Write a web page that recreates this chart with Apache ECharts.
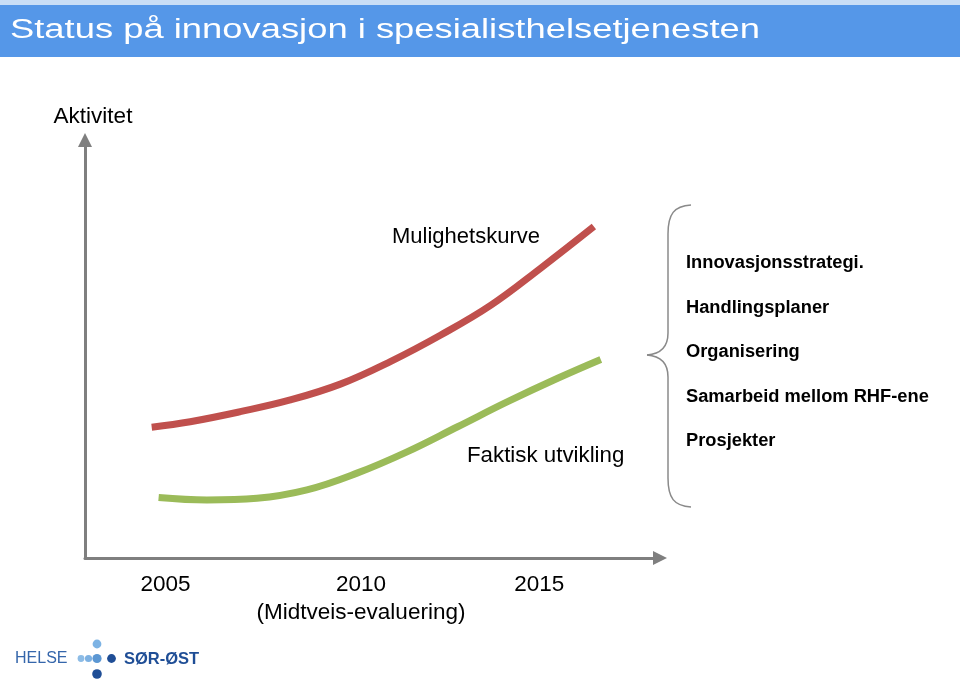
<!DOCTYPE html>
<html><head><meta charset="utf-8">
<script src="https://cdn.jsdelivr.net/npm/echarts@6/dist/echarts.min.js"></script>
<style>html,body{margin:0;padding:0;background:#fff}#c{width:960px;height:682px}</style>
</head><body><div id="c"></div>
<script>
// ---- chart content ----
const titleText = 'Status på innovasjon i spesialisthelsetjenesten';
const yAxisTitle = 'Aktivitet';
const tickPositions = [14, 48, 79];
const tickLabels = ['2005', '2010\n(Midtveis-evaluering)', '2015'];
const possibleName = 'Mulighetskurve';
const possibleX = [11.6, 18.3, 27.0, 35.7, 44.4, 53.1, 61.8, 70.6, 79.3, 88.5];
const possibleY = [31.3, 32.6, 35.0, 37.8, 41.6, 47.0, 53.3, 60.5, 69.4, 79.3];
const actualName = 'Faktisk utvikling';
const actualX = [12.8, 21.2, 29.9, 38.6, 47.3, 56.0, 64.8, 73.5, 82.2, 89.7];
const actualY = [14.5, 13.9, 14.3, 16.3, 20.3, 25.4, 31.4, 37.4, 43.0, 47.5];
const measures = ['Innovasjonsstrategi.', 'Handlingsplaner', 'Organisering', 'Samarbeid mellom RHF-ene', 'Prosjekter'];
const logoLeft = 'HELSE';
const logoRight = 'SØR-ØST';

// ---- rendering ----
const FONT = '"Liberation Sans", Arial, Helvetica, sans-serif';
const chart = echarts.init(document.getElementById('c'), null, {renderer: 'canvas'});

const cv = document.createElement('canvas').getContext('2d');
cv.font = '27px ' + FONT;
const titleW = cv.measureText(titleText).width;
const titleScale = 750 / titleW;

const zip = (xs, ys) => xs.map((x, i) => [x, ys[i]]);

const braceStyle = {stroke: '#8a8a8a', lineWidth: 1.5, fill: null};
const graphics = [
  {type: 'rect', shape: {x: 0, y: 0, width: 960, height: 5}, style: {fill: '#c9def6'}, silent: true},
  {type: 'rect', shape: {x: 0, y: 5, width: 960, height: 52}, style: {fill: '#5597e8'}, silent: true},
  {type: 'text', x: 10, y: 31, scaleX: titleScale, originX: 0,
   style: {text: titleText, fill: '#ffffff', font: '27px ' + FONT, verticalAlign: 'middle', align: 'left'}},
  {type: 'text', x: 392, y: 237, style: {text: possibleName, fill: '#000', font: '22px ' + FONT, verticalAlign: 'middle'}},
  {type: 'text', x: 467, y: 456, style: {text: actualName, fill: '#000', font: '22.3px ' + FONT, verticalAlign: 'middle'}},
  {type: 'bezierCurve', shape: {x1: 691, y1: 205, cpx1: 674, cpy1: 206, cpx2: 668, cpy2: 214, x2: 668, y2: 234}, style: braceStyle, silent: true},
  {type: 'line', shape: {x1: 668, y1: 234, x2: 668, y2: 333}, style: braceStyle, silent: true},
  {type: 'bezierCurve', shape: {x1: 668, y1: 333, cpx1: 668, cpy1: 348, cpx2: 660, cpy2: 354, x2: 647, y2: 355}, style: braceStyle, silent: true},
  {type: 'bezierCurve', shape: {x1: 647, y1: 355, cpx1: 660, cpy1: 356, cpx2: 668, cpy2: 362, x2: 668, y2: 377}, style: braceStyle, silent: true},
  {type: 'line', shape: {x1: 668, y1: 377, x2: 668, y2: 478}, style: braceStyle, silent: true},
  {type: 'bezierCurve', shape: {x1: 668, y1: 478, cpx1: 668, cpy1: 498, cpx2: 674, cpy2: 506, x2: 691, y2: 507}, style: braceStyle, silent: true},
  {type: 'text', x: 15, y: 659, style: {text: logoLeft, fill: '#3566ab', font: '16px ' + FONT, verticalAlign: 'middle'}},
  {type: 'text', x: 124, y: 659, style: {text: logoRight, fill: '#1f4e96', font: 'bold 16.5px ' + FONT, verticalAlign: 'middle'}},
  {type: 'circle', shape: {cx: 81, cy: 658.5, r: 3.4}, style: {fill: '#8dbce6'}},
  {type: 'circle', shape: {cx: 88.5, cy: 658.5, r: 3.6}, style: {fill: '#7db1e2'}},
  {type: 'circle', shape: {cx: 97, cy: 658.5, r: 4.6}, style: {fill: '#5b97d3'}},
  {type: 'circle', shape: {cx: 97, cy: 644, r: 4.4}, style: {fill: '#7db3e4'}},
  {type: 'circle', shape: {cx: 97, cy: 674, r: 4.8}, style: {fill: '#1f4e96'}},
  {type: 'circle', shape: {cx: 111.5, cy: 658.5, r: 4.4}, style: {fill: '#1f4e96'}}
];
measures.forEach((m, i) => {
  graphics.push({type: 'text', x: 686, y: 263 + i * 44.5,
    style: {text: m, fill: '#000', font: 'bold 18.3px ' + FONT, verticalAlign: 'middle'}});
});

const axisLine = {show: true, symbol: ['none', 'triangle'], symbolSize: [14, 14],
  lineStyle: {color: '#7f7f7f', width: 3}};

chart.setOption({
  animation: false,
  backgroundColor: '#ffffff',
  grid: {left: 85, right: 300, top: 140, bottom: 124},
  xAxis: {
    type: 'value', min: 0, max: 100,
    axisLine: axisLine,
    axisTick: {show: false},
    splitLine: {show: false},
    axisLabel: {
      customValues: tickPositions,
      formatter: v => { const i = tickPositions.indexOf(v); return i >= 0 ? tickLabels[i] : ''; },
      margin: 13, color: '#000', fontSize: 22.5, lineHeight: 28, fontFamily: FONT
    }
  },
  yAxis: {
    type: 'value', min: 0, max: 100,
    name: yAxisTitle, nameLocation: 'end', nameGap: 23,
    nameTextStyle: {color: '#000', fontSize: 22.5, fontFamily: FONT, align: 'center', verticalAlign: 'middle', padding: [0, 0, 0, 16]},
    axisLine: axisLine,
    axisTick: {show: false},
    axisLabel: {show: false},
    splitLine: {show: false}
  },
  series: [
    {name: possibleName, type: 'line', data: zip(possibleX, possibleY), smooth: 0.4, showSymbol: false,
     lineStyle: {color: '#c0504d', width: 7, cap: 'butt'}},
    {name: actualName, type: 'line', data: zip(actualX, actualY), smooth: 0.4, showSymbol: false,
     lineStyle: {color: '#9bbb59', width: 7, cap: 'butt'}}
  ],
  graphic: graphics
});
</script>
</body></html>
